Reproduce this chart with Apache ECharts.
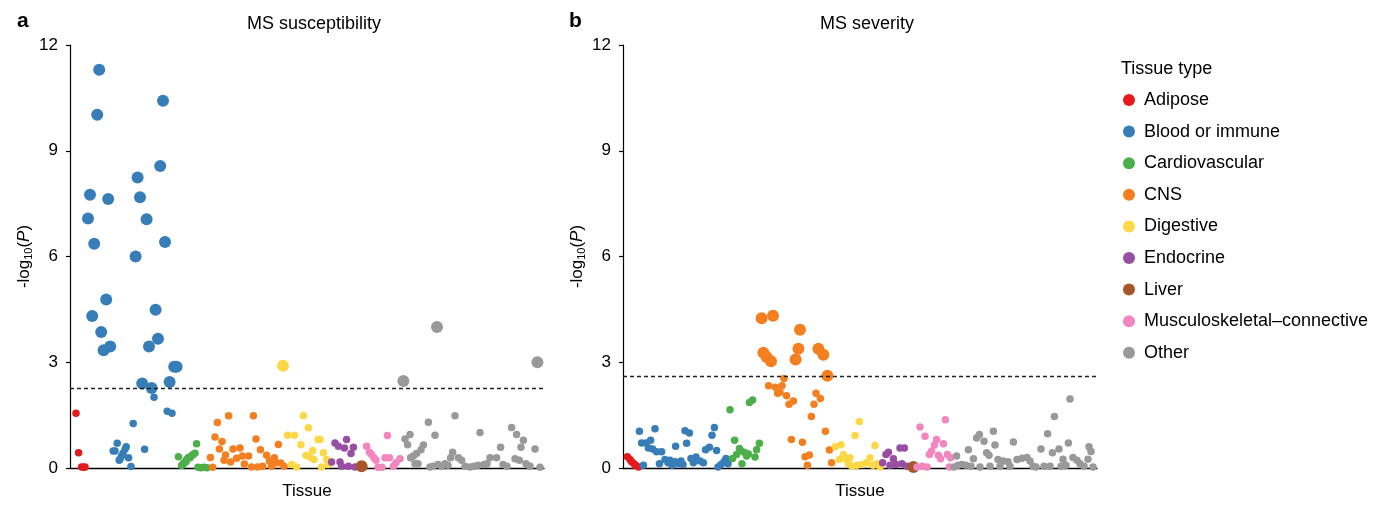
<!DOCTYPE html>
<html>
<head>
<meta charset="utf-8">
<script src="https://cdn.jsdelivr.net/npm/echarts@6/dist/echarts.min.js"></script>
<style>
  html, body { margin: 0; padding: 0; background: #fff; }
  #chart { width: 1381px; height: 505px; }
</style>
</head>
<body>
<div id="chart"></div>
<script>
// tissue types, in legend order
const tissueTypes = ['Adipose', 'Blood or immune', 'Cardiovascular', 'CNS', 'Digestive',
  'Endocrine', 'Liver', 'Musculoskeletal\u2013connective', 'Other'];

const yTicks = [0, 3, 6, 9, 12];
const thresholdSusc = 2.25;
const thresholdSev = 2.6;

// a: MS susceptibility — [tissue rank, -log10(P)]
const adiposeSusc = [[3, 1.55], [4.3, 0.43], [5.8, 0.03], [6.8, 0.02], [7.5, 0.03]];
const bloodSusc = [
  [14.6, 11.3], [13.6, 10.02], [46.5, 10.42], [45.1, 8.57], [33.8, 8.24], [10, 7.75],
  [19.1, 7.63], [35, 7.68], [9, 7.08], [38.3, 7.06], [12.1, 6.36], [47.5, 6.41],
  [32.8, 6.0], [18.1, 4.78], [42.8, 4.49], [11.1, 4.31], [15.6, 3.86], [44, 3.67],
  [16.8, 3.34], [20.1, 3.45], [39.5, 3.45], [52.1, 2.87], [53.3, 2.87], [36.1, 2.4],
  [40.8, 2.27], [49.8, 2.44],
  [42, 2.01], [48.6, 1.61], [51, 1.55], [31.6, 1.26], [37.3, 0.53], [23.6, 0.7],
  [21.6, 0.48], [22.5, 0.48], [28.1, 0.6], [27.5, 0.53], [26.5, 0.42], [25.7, 0.33],
  [25, 0.25], [24.6, 0.22], [29.3, 0.29], [30.5, 0.04]
];
const cardioSusc = [
  [54.2, 0.32], [55.8, 0.07], [56.5, 0.1], [57, 0.15], [58, 0.18], [58.3, 0.24],
  [59.2, 0.3], [60, 0.29], [60.8, 0.35], [61.6, 0.38], [62.5, 0.42], [63.3, 0.69],
  [64, 0.02], [65.5, 0.01], [67, 0.02], [68.5, 0.01]
];
const cnsSusc = [
  [70.2, 0.3], [71.3, 0.02], [72.5, 0.88], [73.7, 1.29], [74.7, 0.54], [76, 0.75],
  [77, 0.22], [77.8, 0.37], [79.3, 1.48], [80.3, 0.17], [81.5, 0.54], [83.3, 0.28],
  [85, 0.57], [86.2, 0.34], [87.2, 0.11], [89.3, 0.34], [90.8, 0.03], [91.7, 1.48],
  [93, 0.82], [93.8, 0.03], [95.2, 0.52], [96.3, 0.05], [98.3, 0.36], [99.7, 0.2],
  [100.8, 0.05], [102.2, 0.29], [103, 0.15], [104.2, 0.67], [105.3, 0.14], [107, 0.05]
];
const digestiveSusc = [
  [106.5, 2.9], [108.8, 0.93], [110.8, 0.1], [112.2, 0.93], [113.3, 0.03], [115.5, 0.66],
  [116.7, 1.48], [118, 0.36], [119.2, 1.14], [120, 0.31], [121.3, 0.5], [122, 0.24],
  [124, 0.81], [125, 0.81], [125.8, 0.03], [126.7, 0.43], [128.3, 0.24], [129.2, 0.1]
];
const endocrineSusc = [
  [130.8, 0.17], [132.5, 0.71], [134.2, 0.62], [135, 0.17], [135.8, 0.05], [137.2, 0.57],
  [138.3, 0.81], [139.2, 0.05], [140.5, 0.41], [141.7, 0.59], [142.5, 0.03]
];
const liverSusc = [[145.8, 0.05]];
const muscSusc = [
  [148.3, 0.62], [149.7, 0.45], [150.8, 0.38], [152, 0.29], [153, 0.22], [154, 0.02],
  [156, 0.02], [157.5, 0.29], [158.7, 0.92], [159.7, 0.29], [161.7, 0.05], [163, 0.15],
  [165, 0.26]
];
const otherSusc = [
  [166.7, 2.47], [167.5, 0.82], [168.8, 0.66], [170, 0.95], [170.3, 0.29], [171.7, 0.34],
  [172.5, 0.12], [173.3, 0.41], [174, 0.12], [175.5, 0.52], [176.7, 0.65], [179.2, 1.3],
  [180, 0.03], [181.5, 0.05], [182.5, 0.93], [183.5, 4.0], [184, 0.1], [186, 0.05],
  [187.5, 0.12], [189, 0.08], [190.3, 0.29], [191.3, 0.45], [192.5, 1.48], [194.2, 0.29],
  [195.8, 0.22], [197.5, 0.05], [200, 0.03], [202, 0.05], [204, 0.08], [205, 1.01],
  [207, 0.1], [208.5, 0.12], [210, 0.29], [213.3, 0.29], [215.3, 0.59], [216.5, 0.1],
  [218.5, 0.05], [220.8, 1.15], [222.5, 0.26], [223.3, 0.95], [224.7, 0.22], [225.5, 0.59],
  [226.7, 0.79], [228, 0.12], [230, 0.05], [232.5, 0.54], [233.7, 3.0], [235, 0.02]
];

// b: MS severity
const adiposeSev = [[2.2, 0.32], [3.5, 0.24], [4.3, 0.18], [5.5, 0.12], [6.5, 0.07], [7.7, 0.03]];
const bloodSev = [
  [8.2, 1.04], [9.3, 0.71], [10.2, 0.08], [11.5, 0.71], [12.7, 0.57], [13.8, 0.79],
  [14.8, 0.54], [16, 1.11], [16.8, 0.46], [18.2, 0.12], [19.3, 0.46], [21, 0.24],
  [22.5, 0.15], [23.5, 0.22], [24.5, 0.08], [26, 0.18], [26.3, 0.62], [27.5, 0.12],
  [29, 0.2], [30, 0.1], [31, 1.06], [31.8, 0.7], [33.2, 0.99], [34, 0.27], [35.2, 0.15],
  [36.5, 0.31], [38.5, 0.2], [40.2, 0.15], [41.3, 0.52], [43.2, 0.59], [44.5, 0.93],
  [45.7, 1.15], [46.8, 0.5], [47.5, 0.03], [49, 0.1], [50.5, 0.18], [51.5, 0.27], [52.5, 0.12]
];
const cardioSev = [
  [53.5, 1.65], [54.8, 0.27], [55.8, 0.79], [56.8, 0.38], [58.2, 0.55], [59.3, 0.48],
  [59.5, 0.12], [61, 0.43], [61.8, 0.34], [62.7, 0.4], [63.2, 1.86], [64.8, 1.93],
  [66, 0.31], [66.8, 0.52], [68.2, 0.7]
];
const cnsSev = [
  [69.3, 4.25], [70.2, 3.27], [71.8, 3.15], [74, 3.03], [75, 4.32], [86.3, 3.08],
  [87.7, 3.38], [88.5, 3.92], [97.7, 3.38], [100.2, 3.21], [102.2, 2.62],
  [72.8, 2.33], [76.2, 2.29], [77.3, 2.12], [78.5, 2.15], [79.5, 2.33], [80.5, 2.54],
  [81.8, 2.05], [83, 1.81], [84.2, 0.81], [85.2, 1.9], [89.7, 0.73], [91, 0.32],
  [92.2, 0.08], [93.2, 0.37], [94.2, 1.46], [95.5, 1.81], [96.5, 2.12], [98.7, 1.97],
  [101.2, 1.04], [103.2, 0.51], [104.3, 0.15]
];
const digestiveSev = [
  [106.2, 0.6], [108.2, 0.24], [109, 0.66], [110.2, 0.38], [111.8, 0.24], [112.7, 0.12],
  [113.5, 0.29], [114.5, 0.05], [116, 0.92], [117, 0.08], [118.2, 1.32], [119.5, 0.1],
  [121.8, 0.15], [123.5, 0.29], [125, 0.08], [126, 0.64], [127, 0.12], [128.5, 0.03]
];
const endocrineSev = [
  [129.8, 0.15], [131.5, 0.38], [132.7, 0.45], [133.5, 0.08], [135.2, 0.26], [136.5, 0.1],
  [138.5, 0.57], [139.5, 0.12], [140.7, 0.57], [142, 0.05]
];
const liverSev = [[145.2, 0.03]];
const muscSev = [
  [147, 0.03], [148.5, 1.16], [149.5, 0.05], [151, 0.9], [152, 0.03], [153.2, 0.38],
  [154.3, 0.48], [155.7, 0.65], [156.8, 0.81], [157.7, 0.36], [158.8, 0.26], [160.2, 0.69],
  [161.2, 1.37], [162.2, 0.38], [163.2, 0.03], [163.8, 0.29]
];
const otherSev = [
  [165.5, 0.03], [166.8, 0.34], [167.5, 0.08], [169.5, 0.1], [171.5, 0.08], [172.7, 0.52],
  [174, 0.05], [175.2, 0.26], [176.8, 0.85], [178.2, 0.95], [178.5, 0.03], [180.5, 0.76],
  [181.8, 0.43], [183, 0.36], [183.5, 0.05], [185.2, 1.04], [186, 0.65], [187.5, 0.24],
  [188.5, 0.05], [190, 0.2], [192.5, 0.18], [193.5, 0.05], [195.2, 0.74], [197, 0.24],
  [199.5, 0.28], [202, 0.3], [203.5, 0.2], [205, 0.05], [206.5, 0.03], [209, 0.54],
  [210.5, 0.05], [212.3, 0.97], [213.5, 0.05], [214.7, 0.43], [215.7, 1.46], [218, 0.54],
  [219, 0.05], [220, 0.25], [221.5, 0.08], [222.7, 0.71], [223.5, 1.96], [225, 0.3],
  [227, 0.22], [228.5, 0.12], [230.5, 0.05], [232.5, 0.25], [233, 0.6], [234, 0.47], [235, 0.03]
];

const suscData = [adiposeSusc, bloodSusc, cardioSusc, cnsSusc, digestiveSusc,
  endocrineSusc, liverSusc, muscSusc, otherSusc];
const sevData = [adiposeSev, bloodSev, cardioSev, cnsSev, digestiveSev,
  endocrineSev, liverSev, muscSev, otherSev];

const colors = ['#e41a1c', '#377eb8', '#4daf4a', '#f47f20', '#fdd846',
  '#984ea3', '#a65628', '#f386bf', '#999999'];

const FONT = '"Liberation Sans", Arial, Helvetica, sans-serif';
const BIG = 12, SMALL = 7.5;

const chart = echarts.init(document.getElementById('chart'));

function yAxisFor(gridIndex) {
  return {
    type: 'value', gridIndex: gridIndex, min: 0, max: 12, interval: 3,
    name: '{t|-log}{s|10}{t|(}{i|P}{t|)}',
    nameLocation: 'middle', nameGap: 36,
    nameTextStyle: {
      rich: {
        t: { fontSize: 17, color: '#000', fontFamily: FONT },
        s: { fontSize: 11, color: '#000', fontFamily: FONT, padding: [8, 0, 0, 0] },
        i: { fontSize: 17, color: '#000', fontFamily: FONT, fontStyle: 'italic' }
      }
    },
    axisLine: { show: true, lineStyle: { color: '#000', width: 1.2 } },
    axisTick: { show: true, length: 4, lineStyle: { color: '#000', width: 1.2 } },
    axisLabel: { color: '#000', fontSize: 17, fontFamily: FONT, margin: 12,
      formatter: v => (yTicks.indexOf(v) >= 0 ? String(v) : '') },
    splitLine: { show: false }
  };
}

function xAxisFor(gridIndex) {
  return {
    type: 'value', gridIndex: gridIndex, min: 0, max: 237,
    name: 'Tissue', nameLocation: 'middle', nameGap: 15,
    nameTextStyle: { fontSize: 17, color: '#000', fontFamily: FONT },
    axisLine: { show: true, onZero: false, lineStyle: { color: '#000', width: 1.3 } },
    axisTick: { show: false },
    axisLabel: { show: false },
    splitLine: { show: false }
  };
}

const series = [];
[suscData, sevData].forEach((panel, p) => {
  const thr = p === 0 ? thresholdSusc : thresholdSev;
  panel.forEach((pts, k) => {
    const s = {
      name: tissueTypes[k],
      type: 'scatter',
      xAxisIndex: p, yAxisIndex: p,
      data: pts,
      symbolSize: k === 6 ? BIG : (v => (v[1] > thr ? BIG : SMALL)),
      itemStyle: { color: colors[k], opacity: 1 },
      emphasis: { disabled: true },
      z: 3
    };
    if (k === 0) {
      s.markLine = {
        silent: true, symbol: 'none', animation: false,
        label: { show: false },
        lineStyle: { color: '#222', type: [4, 3], width: 1.3 },
        data: [{ yAxis: thr }]
      };
    }
    series.push(s);
  });
});

const option = {
  animation: false,
  backgroundColor: '#fff',
  color: colors,
  title: [
    { text: 'a', left: 12, top: 6, textStyle: { fontSize: 21, fontWeight: 'bold', color: '#000', fontFamily: FONT } },
    { text: 'b', left: 564, top: 6, textStyle: { fontSize: 21, fontWeight: 'bold', color: '#000', fontFamily: FONT } },
    { text: 'MS susceptibility', left: 309, textAlign: 'center', top: 10,
      textStyle: { fontSize: 18, fontWeight: 'normal', color: '#000', fontFamily: FONT } },
    { text: 'MS severity', left: 862, textAlign: 'center', top: 10,
      textStyle: { fontSize: 18, fontWeight: 'normal', color: '#000', fontFamily: FONT } },
    { text: 'Tissue type', left: 1116, top: 55,
      textStyle: { fontSize: 18, fontWeight: 'normal', color: '#000', fontFamily: FONT } }
  ],
  legend: {
    orient: 'vertical', left: 1118, top: 86,
    data: tissueTypes,
    icon: 'circle', itemWidth: 20, itemHeight: 12, itemGap: 13.6,
    textStyle: { fontSize: 18, color: '#000', fontFamily: FONT },
    selectedMode: false
  },
  grid: [
    { left: 70, right: 837, top: 45, bottom: 33 },
    { left: 623, right: 284, top: 45, bottom: 33 }
  ],
  xAxis: [xAxisFor(0), xAxisFor(1)],
  yAxis: [yAxisFor(0), yAxisFor(1)],
  series: series
};

chart.setOption(option);
</script>
</body>
</html>
